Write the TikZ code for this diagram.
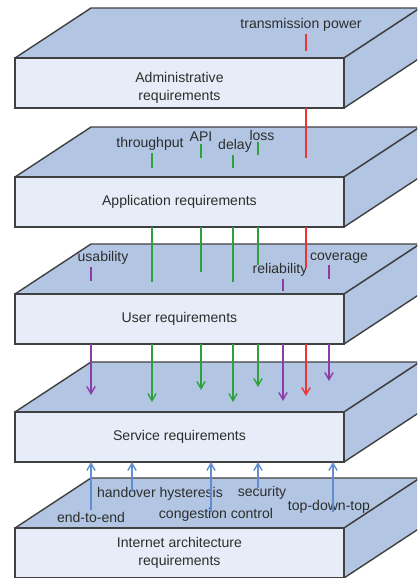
\documentclass[tikz,border=0pt]{standalone}
\usepackage{fontspec}
\setmainfont{Liberation Sans}
\usetikzlibrary{arrows}

\definecolor{topblue}{RGB}{178,198,228}
\definecolor{frontblue}{RGB}{231,237,248}
\definecolor{edgegray}{RGB}{64,64,64}
\definecolor{labelgray}{RGB}{45,45,45}
\definecolor{linegreen}{RGB}{46,160,60}
\definecolor{linepurple}{RGB}{140,60,165}
\definecolor{linered}{RGB}{240,50,50}
\definecolor{lineblue}{RGB}{95,140,210}

\tikzset{
    slabtop/.style={fill=topblue,draw=edgegray,line width=0.8pt,line join=round},
    slabfront/.style={fill=frontblue,draw=edgegray,line width=0.8pt,
        minimum width=6.58cm,minimum height=1cm,inner sep=0pt,outer sep=0pt,
        anchor=north west},
    layertext/.style={align=center,text=labelgray,font=\fontsize{8}{10}\selectfont},
    tag/.style={text=labelgray,font=\fontsize{8}{9}\selectfont,inner sep=1pt},
    greenline/.style={draw=linegreen,line width=0.8pt},
    purpleline/.style={draw=linepurple,line width=0.8pt},
    redline/.style={draw=linered,line width=0.8pt},
    blueline/.style={draw=lineblue,line width=0.8pt}
}

\begin{document}
\begin{tikzpicture}[x=0.02cm,y=-0.02cm,>=angle 60]
    \useasboundingbox (0,0) rectangle (417,578);
    \clip (0,0) rectangle (417,578);

    % the five layers
    \foreach \y/\name/\txt/\dy in {58/admin/{Administrative\\requirements}/-0.1cm,
                                   177/app/{Application requirements}/0cm,
                                   294/user/{User requirements}/0cm,
                                   412/serv/{Service requirements}/0cm,
                                   528/inet/{Internet architecture\\requirements}/0cm} {
        \draw[slabtop] (15,\y) -- (91,\y-50) -- (420,\y-50) -- (344,\y) -- cycle;
        \draw[slabtop] (344,\y) -- (420,\y-50) -- (420,\y) -- (344,\y+50) -- cycle;
        \node[slabfront] (\name) at (15,\y) {};
        \node[layertext] at ([yshift=\dy]\name.center) {\txt};
    }

    % labels
    \node[tag] (txpower) at (301,25) {transmission power};
    \node[tag] (tput) at (150,144) {throughput};
    \node[tag] (api) at (201,137) {API};
    \node[tag] (delay) at (235,146) {delay};
    \node[tag] (loss) at (262,135) {loss};
    \node[tag] (usab) at (103,258) {usability};
    \node[tag] (relia) at (280,270) {reliability};
    \node[tag] (cover) at (339,258) {coverage};
    \node[tag] (e2e) at (91,517) {end-to-end};
    \node[tag] (handover) at (160,494) {handover hysteresis};
    \node[tag] (congest) at (216,515) {congestion control};
    \node[tag] (secur) at (262,493) {security};
    \node[tag] (topdown) at (329,507) {top-down-top};

    % arrow tips on the service layer
    \coordinate (txtip) at (306,396);
    \coordinate (tputtip) at (152,402);
    \coordinate (apitip) at (201,390);
    \coordinate (delaytip) at (233,402);
    \coordinate (losstip) at (258,387);
    \coordinate (usabtip) at (91,395);
    \coordinate (reliatip) at (283,401);
    \coordinate (covertip) at (329,381);

    % downward lines
    \draw[redline,->] (txpower.south -| txtip) -- +(0,17)
        (txtip |- admin.south) -- +(0,50)
        (txtip |- app.south) -- +(0,41)
        (txtip |- user.south) -- (txtip);
    \draw[greenline,->] (tput.south -| tputtip) -- +(0,15)
        (tputtip |- app.south) -- +(0,55)
        (tputtip |- user.south) -- (tputtip);
    \draw[greenline,->] (api.south -| apitip) -- +(0,14)
        (apitip |- app.south) -- +(0,45)
        (apitip |- user.south) -- (apitip);
    \draw[greenline,->] (delay.south -| delaytip) -- +(0,13)
        (delaytip |- app.south) -- +(0,55)
        (delaytip |- user.south) -- (delaytip);
    \draw[greenline,->] (loss.south -| losstip) -- +(0,13)
        (losstip |- app.south) -- +(0,38)
        (losstip |- user.south) -- (losstip);
    \draw[purpleline,->] (usab.south -| usabtip) -- +(0,14)
        (usabtip |- user.south) -- (usabtip);
    \draw[purpleline,->] (relia.south -| reliatip) -- +(0,12)
        (reliatip |- user.south) -- (reliatip);
    \draw[purpleline,->] (cover.south -| covertip) -- +(0,14)
        (covertip |- user.south) -- (covertip);

    % upward lines
    \coordinate (e2efoot) at (91,510);
    \coordinate (handfoot) at (132,492);
    \coordinate (congfoot) at (211,512);
    \coordinate (securfoot) at (258,488);
    \coordinate (topfoot) at (333,512);
    \draw[blueline,->] (e2efoot) -- (e2efoot |- serv.south);
    \draw[blueline,->] (handfoot) -- (handfoot |- serv.south);
    \draw[blueline,->] (congfoot) -- (congfoot |- serv.south);
    \draw[blueline,->] (securfoot) -- (securfoot |- serv.south);
    \draw[blueline,->] (topfoot) -- (topfoot |- serv.south);
\end{tikzpicture}
\end{document}
